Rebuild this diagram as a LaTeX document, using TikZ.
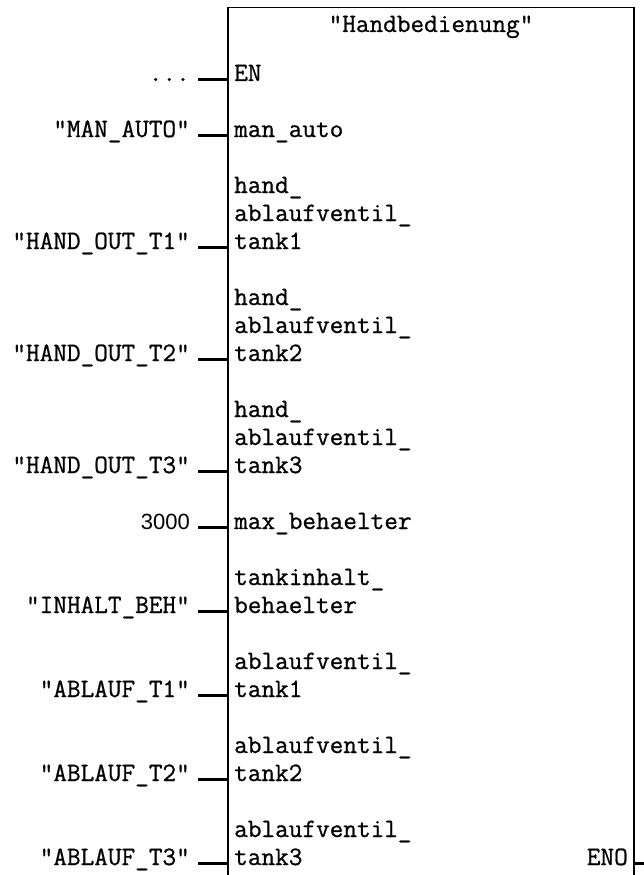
\documentclass[tikz,border=0pt]{standalone}
\usepackage{fontspec}
\setmonofont{Latin Modern Mono}[FakeBold=0.8]
\newfontfamily\numfont{Liberation Sans}

\tikzset{
  pinname/.style={anchor=base west, inner sep=0pt, align=left, font=\ttfamily\fontsize{26.5}{28}\selectfont},
  operand/.style={anchor=base east, inner sep=0pt, font=\ttfamily\fontsize{26.5}{28}\selectfont},
  stub/.style={line width=3pt},
}

\begin{document}
\begin{tikzpicture}[x=1pt, y=-1pt]
            \useasboundingbox (0,0) rectangle (644,875);

            % FB box (open below the page edge)
            \node[draw, line width=1.3pt, minimum width=406pt, minimum height=893pt, inner sep=0pt] (fb) at (431,454) {};
            \node[operand, anchor=base] (title) at (431,32) {"Handbedienung"};

            % Pin names (base = last line)
            \node[pinname] (en) at (234,81) {EN};
            \node[pinname] (manauto) at (234,137) {man\_auto};
            \node[pinname] (hand1) at (234,249) {hand\_\\ablaufventil\_\\tank1};
            \node[pinname] (hand2) at (234,361) {hand\_\\ablaufventil\_\\tank2};
            \node[pinname] (hand3) at (234,473) {hand\_\\ablaufventil\_\\tank3};
            \node[pinname] (maxbeh) at (234,529) {max\_behaelter};
            \node[pinname] (inhalt) at (234,613) {tankinhalt\_\\behaelter};
            \node[pinname] (abl1) at (234,697) {ablaufventil\_\\tank1};
            \node[pinname] (abl2) at (234,781) {ablaufventil\_\\tank2};
            \node[pinname] (abl3) at (234,865) {ablaufventil\_\\tank3};
            \node[operand] (eno) at (628,865) {ENO};

            % Operands
            \node[operand] (o1) at (190,81) {...};
            \node[operand] (o2) at (190,137) {"MAN\_AUTO"};
            \node[operand] (o3) at (190,249) {"HAND\_OUT\_T1"};
            \node[operand] (o4) at (190,361) {"HAND\_OUT\_T2"};
            \node[operand] (o5) at (190,473) {"HAND\_OUT\_T3"};
            \node[operand, font=\numfont\fontsize{22}{28}\selectfont] (o6) at (190,529) {3000};
            \node[operand] (o7) at (190,613) {"INHALT\_BEH"};
            \node[operand] (o8) at (190,697) {"ABLAUF\_T1"};
            \node[operand] (o9) at (190,781) {"ABLAUF\_T2"};
            \node[operand] (o10) at (190,865) {"ABLAUF\_T3"};

            % Wires
            \foreach \o in {o1,o2,o3,o4,o5,o6,o7,o8,o9,o10}
              \draw[stub] ([shift={(8,-2)}]\o.base east) coordinate (s) -- (s -| fb.west);
            \coordinate (enoend) at (644,863);
            \draw[stub] (fb.east |- enoend) -- (enoend);
        \end{tikzpicture}
\end{document}
